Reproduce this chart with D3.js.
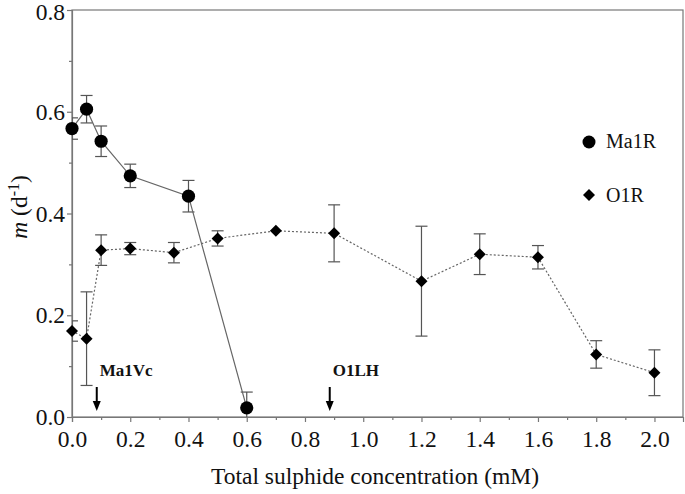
<!DOCTYPE html>
<html><head><meta charset="utf-8">
<script src="https://cdn.jsdelivr.net/npm/d3@7"></script>
<style>body{margin:0;background:#fff}svg{display:block}</style>
</head><body>
<svg id="c" width="685" height="494"></svg>
<script>
const maX = [0, 0.05, 0.1, 0.2, 0.4, 0.6];
const maY = [0.567, 0.605, 0.542, 0.474, 0.434, 0.018];
const maErr = [0.021, 0.027, 0.030, 0.023, 0.031, 0.031];
const oX = [0, 0.05, 0.1, 0.2, 0.35, 0.5, 0.7, 0.9, 1.2, 1.4, 1.6, 1.8, 2.0];
const oY = [0.169, 0.154, 0.328, 0.331, 0.323, 0.351, 0.366, 0.361, 0.267, 0.320, 0.314, 0.123, 0.087];
const oErr = [0.020, 0.092, 0.030, 0.012, 0.020, 0.015, 0, 0.056, 0.108, 0.040, 0.023, 0.027, 0.045];
const xTicks = [0, 0.2, 0.4, 0.6, 0.8, 1.0, 1.2, 1.4, 1.6, 1.8, 2.0];
const yTicks = [0, 0.2, 0.4, 0.6, 0.8];
const seriesNames = ["Ma1R", "O1R"];
const annotations = [{label: "Ma1Vc", x: 0.085}, {label: "O1LH", x: 0.885}];

const svg = d3.select("#c");
const FONT = "'Liberation Serif','Times New Roman',serif";
const L = 72, R = 683, T = 10, B = 417;
const x = d3.scaleLinear().domain([0, 2.098]).range([L, R]);
const y = d3.scaleLinear().domain([0, 0.8]).range([B, T]);
const axisCol = "#777", lineCol = "#666";

svg.append("defs").append("clipPath").attr("id","clip")
  .append("rect").attr("x",L).attr("y",T).attr("width",R-L).attr("height",B-T);

// frame
svg.append("rect").attr("x",L).attr("y",T).attr("width",R-L).attr("height",B-T)
  .attr("fill","none").attr("stroke",axisCol).attr("stroke-width",1.2);

// x axis
svg.append("g").attr("transform",`translate(0,${B})`)
  .call(d3.axisBottom(x).tickValues(xTicks).tickFormat(d3.format(".1f")).tickSize(5).tickPadding(8));
svg.append("g").attr("transform",`translate(0,${B})`)
  .call(d3.axisBottom(x).tickValues(d3.range(0.1,2.05,0.2)).tickFormat("").tickSize(3))
  .call(g=>g.select(".domain").remove());
// y axis
const yg = svg.append("g").attr("transform",`translate(${L},0)`)
  .call(d3.axisLeft(y).tickValues(yTicks).tickFormat(d3.format(".1f")).tickSize(5).tickPadding(2));
yg.selectAll(".tick text").filter(d=>d===0.8).attr("dy","0.42em");
svg.append("g").attr("transform",`translate(${L},0)`)
  .call(d3.axisLeft(y).tickValues([0.1,0.3,0.5,0.7]).tickFormat("").tickSize(3))
  .call(g=>g.select(".domain").remove());
svg.selectAll(".tick line").attr("stroke",axisCol).attr("stroke-width",1.2);
svg.selectAll(".domain").attr("stroke",axisCol).attr("stroke-width",1.2);
svg.selectAll(".tick text").attr("font-family",FONT).attr("font-size",23.5).attr("fill","#111");

// axis titles
svg.append("text").attr("x",375).attr("y",484).attr("text-anchor","middle")
  .attr("font-family",FONT).attr("font-size",23.5).attr("fill","#111")
  .text("Total sulphide concentration (mM)");
const yl = svg.append("text").attr("transform","translate(27,207) rotate(-90)")
  .attr("text-anchor","middle").attr("font-family",FONT).attr("font-size",23.5).attr("fill","#111");
yl.append("tspan").attr("font-style","italic").text("m");
yl.append("tspan").text(" (d");
yl.append("tspan").attr("baseline-shift","super").attr("font-size",16).text("-1");
yl.append("tspan").text(")");

const plot = svg.append("g").attr("clip-path","url(#clip)");
const maData = maX.map((v,i)=>({x:v,y:maY[i],e:maErr[i]}));
const oData = oX.map((v,i)=>({x:v,y:oY[i],e:oErr[i]}));

function errBars(data){
  const g = plot.append("g").attr("stroke","#555").attr("stroke-width",1.2);
  data.filter(d=>d.e>0).forEach(d=>{
    const cx = x(d.x);
    g.append("line").attr("x1",cx).attr("x2",cx).attr("y1",y(d.y+d.e)).attr("y2",y(d.y-d.e));
    g.append("line").attr("x1",cx-6).attr("x2",cx+6).attr("y1",y(d.y+d.e)).attr("y2",y(d.y+d.e));
    g.append("line").attr("x1",cx-6).attr("x2",cx+6).attr("y1",y(d.y-d.e)).attr("y2",y(d.y-d.e));
  });
}
errBars(oData);
errBars(maData);

const line = d3.line().x(d=>x(d.x)).y(d=>y(d.y));
plot.append("path").datum(oData).attr("d",line).attr("fill","none")
  .attr("stroke",lineCol).attr("stroke-width",1.2).attr("stroke-dasharray","2,2");
plot.append("path").datum(maData).attr("d",line).attr("fill","none")
  .attr("stroke",lineCol).attr("stroke-width",1.2);

const diamond = d3.symbol().type(d3.symbolSquare).size(72);
svg.append("g").selectAll("path").data(oData).join("path")
  .attr("d",diamond).attr("fill","#000")
  .attr("transform",d=>`translate(${x(d.x)},${y(d.y)}) rotate(45)`);
svg.append("g").selectAll("circle").data(maData).join("circle")
  .attr("cx",d=>x(d.x)).attr("cy",d=>y(d.y)).attr("r",6.6).attr("fill","#000");

// legend
const lg = svg.append("g");
lg.append("circle").attr("cx",589).attr("cy",142).attr("r",6.5).attr("fill","#000");
lg.append("text").attr("x",606).attr("y",148).attr("font-family",FONT).attr("font-size",20).attr("fill","#111").text(seriesNames[0]);
lg.append("path").attr("d",diamond).attr("fill","#000").attr("transform","translate(589,195) rotate(45)");
lg.append("text").attr("x",606).attr("y",202).attr("font-family",FONT).attr("font-size",20).attr("fill","#111").text(seriesNames[1]);

// annotations
annotations.forEach(a=>{
  const ax = x(a.x);
  svg.append("text").attr("x",ax+3).attr("y",376).attr("font-family",FONT).attr("font-weight","bold")
    .attr("font-size",17).attr("fill","#111").text(a.label);
  svg.append("line").attr("x1",ax).attr("x2",ax).attr("y1",387).attr("y2",402).attr("stroke","#000").attr("stroke-width",2);
  svg.append("path").attr("d",`M${ax-4},${401}L${ax+4},${401}L${ax},${411}Z`).attr("fill","#000");
});
</script>
</body></html>
